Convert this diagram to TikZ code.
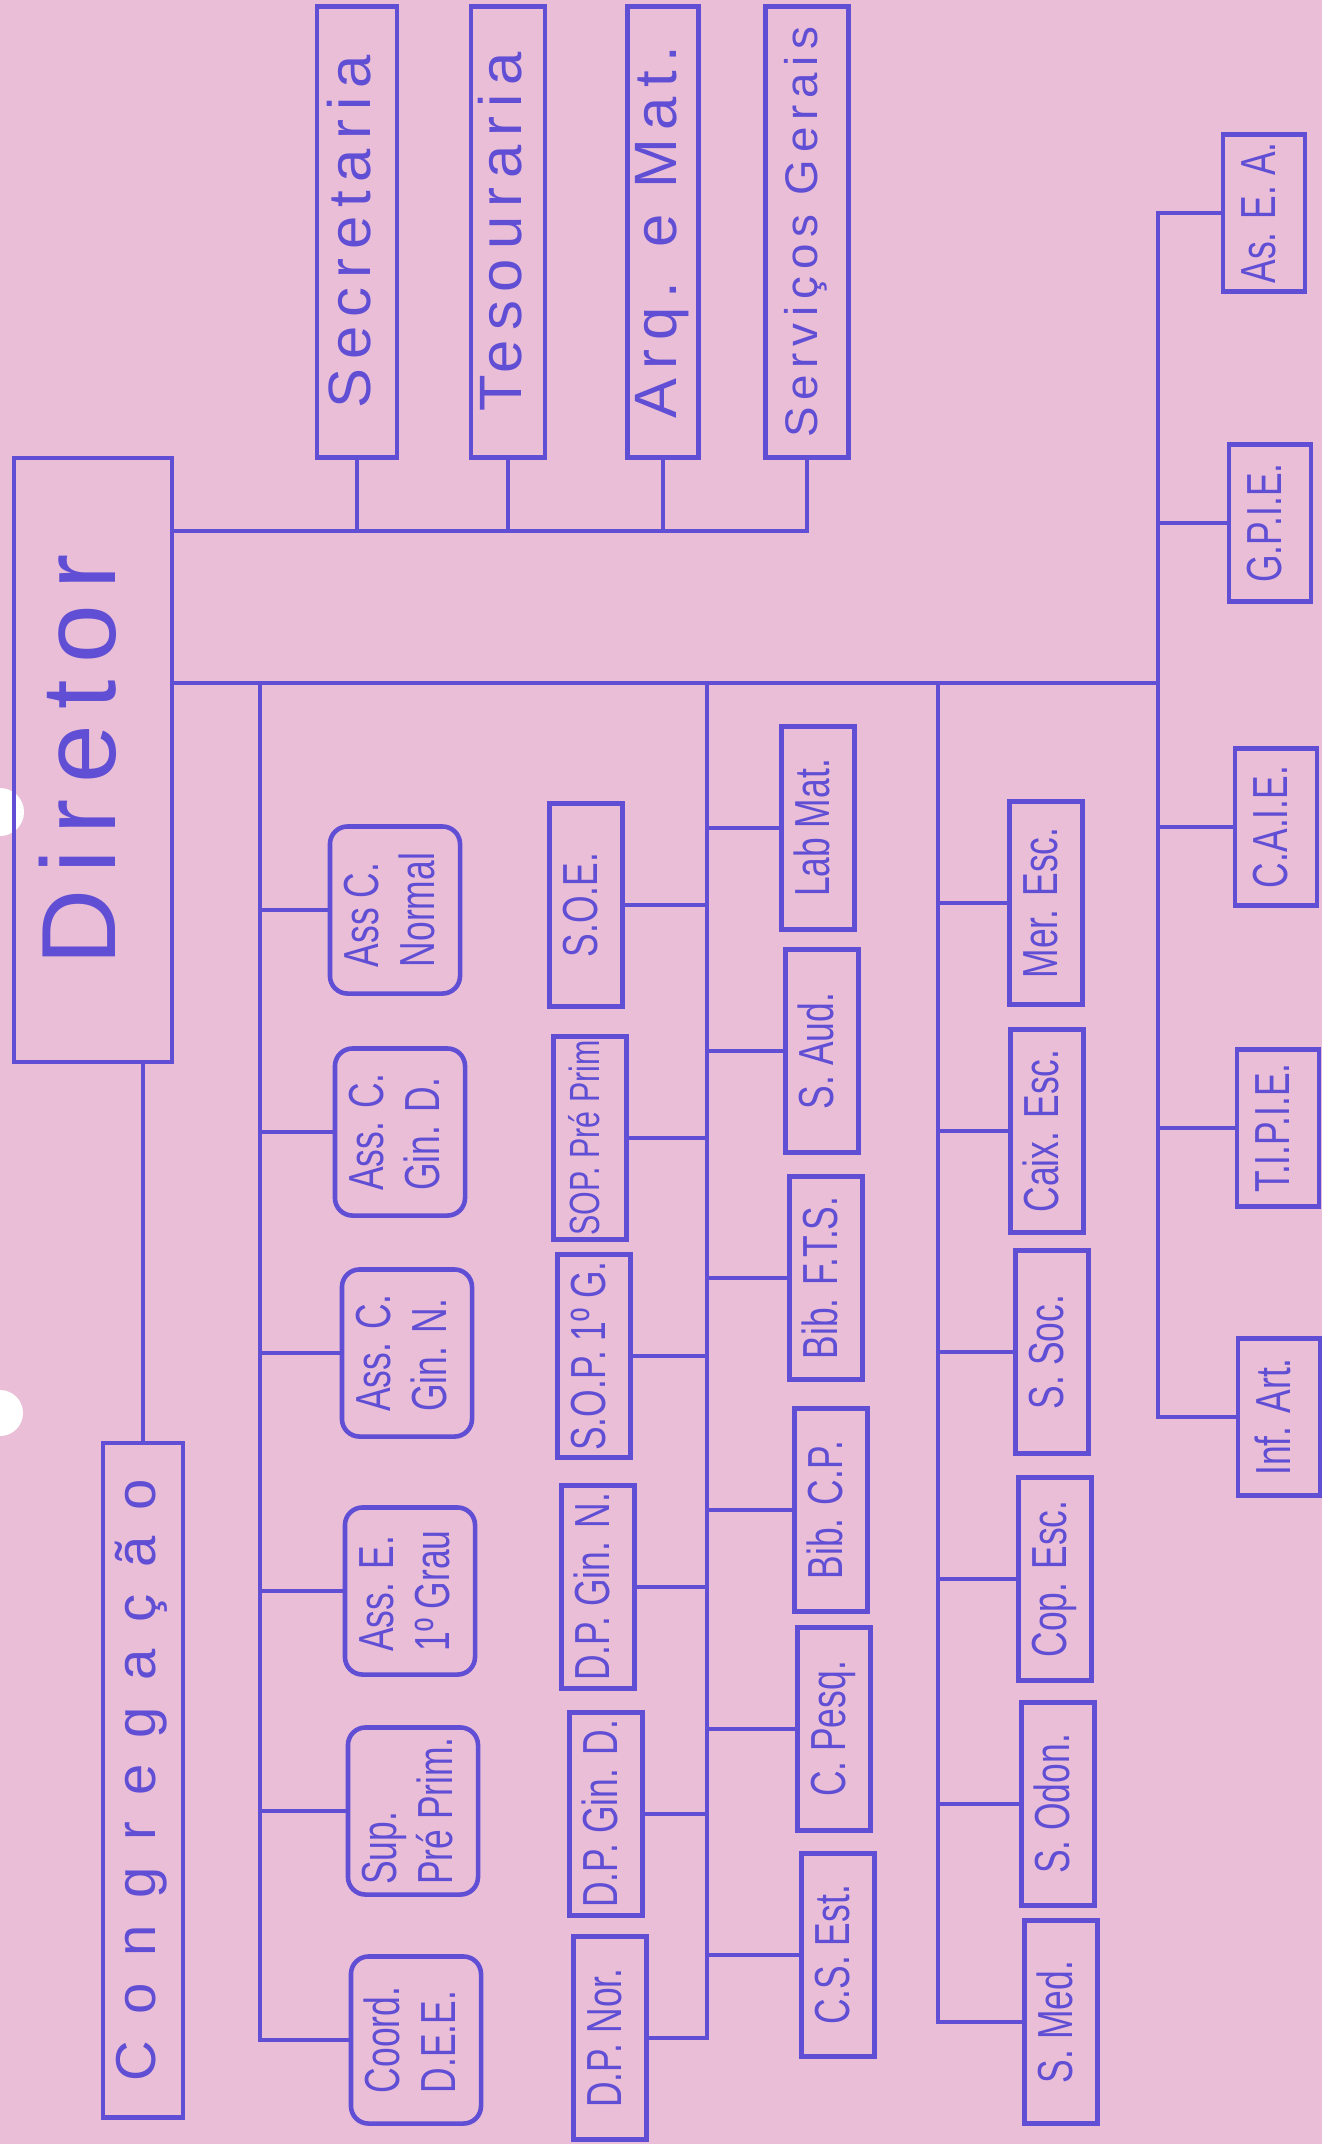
\documentclass[tikz,border=0pt]{standalone}
\usepackage{fontspec}
\setmainfont{Liberation Sans}
\newfontfamily\guide[LetterSpace=15]{Liberation Sans}
\newfontfamily\guidewide[LetterSpace=47]{Liberation Sans}
\newfontfamily\hand[FakeStretch=0.72]{Liberation Sans}
\definecolor{paper}{RGB}{234,190,215}
\definecolor{inkblue}{RGB}{96,78,212}
\newcommand{\vlab}[1]{\rotatebox{90}{\begin{tabular}{@{}l@{}}#1\end{tabular}}}

\begin{document}
\begin{tikzpicture}[
  x=0.01cm, y=-0.01cm,
  wire/.style={draw=inkblue, line width=1.3pt},
  box/.style={draw=inkblue, line width=1.3pt, text=inkblue, inner sep=0pt},
  service/.style={box, minimum height=4.51cm, font=\guide\fontsize{17}{19}\selectfont},
  assist/.style={box, rounded corners=5pt, minimum width=1.30cm, minimum height=1.67cm, font=\hand\fontsize{14}{16}\selectfont},
  unit/.style={box, minimum width=0.73cm, minimum height=2.03cm, font=\hand\fontsize{14}{16}\selectfont},
  aux/.style={box, minimum width=0.82cm, minimum height=1.57cm, font=\hand\fontsize{14}{16}\selectfont}
]
\useasboundingbox (0,0) rectangle (1322,2144);
\fill[paper] (0,0) rectangle (1322,2144);
\fill[white] (0,812) circle (0.24cm);
\fill[white] (0,1413) circle (0.23cm);

% Direction
\node[box, minimum width=1.58cm, minimum height=6.04cm, font=\guide\fontsize{30}{32}\selectfont] (dir) at (93,760) {\vlab{Diretor}};
\node[box, minimum width=0.80cm, minimum height=6.74cm, font=\guidewide\fontsize{16}{18}\selectfont] (cong) at (143,1780) {\vlab{Congregação}};

% Services on top
\node[service, minimum width=0.80cm] (sec) at (357,232) {\vlab{Secretaria}};
\node[service, minimum width=0.74cm] (tes) at (508,232) {\vlab{Tesouraria}};
\node[service, minimum width=0.71cm] (arq) at (663,232) {\vlab{Arq. e Mat.}};
\node[service, minimum width=0.83cm, font=\guide\fontsize{13}{15}\selectfont] (serv) at (807,232) {\vlab{Serviços Gerais}};

% Assistants
\node[assist] (ascn) at (395,910) {\vlab{Ass C.\\Normal}};
\node[assist] (ascgd) at (400,1132) {\vlab{Ass. C.\\Gin. D.}};
\node[assist] (ascgn) at (407,1353) {\vlab{Ass. C.\\Gin. N.}};
\node[assist] (asegr) at (410,1591) {\vlab{Ass. E.\\1º Grau}};
\node[assist] (suppp) at (413,1811) {\vlab{Sup.\\Pré Prim.}};
\node[assist] (coord) at (416,2040) {\vlab{Coord.\\D.E.E.}};

% Pedagogical units
\node[unit] (soe) at (586,905) {\vlab{S.O.E.}};
\node[unit, font=\hand\fontsize{12}{14}\selectfont] (soppp) at (590,1138) {\vlab{SOP. Pré Prim}};
\node[unit] (sop1) at (594,1356) {\vlab{S.O.P. 1º G.}};
\node[unit] (dpgn) at (598,1587) {\vlab{D.P. Gin. N.}};
\node[unit] (dpgd) at (606,1814) {\vlab{D.P. Gin. D.}};
\node[unit] (dpnor) at (610,2038) {\vlab{D.P. Nor.}};

\node[unit] (labmat) at (818,828) {\vlab{Lab Mat.}};
\node[unit] (saud) at (822,1051) {\vlab{S. Aud.}};
\node[unit] (bibfts) at (826,1278) {\vlab{Bib. F.T.S.}};
\node[unit] (bibcp) at (831,1510) {\vlab{Bib. C.P.}};
\node[unit] (cpesq) at (834,1729) {\vlab{C. Pesq.}};
\node[unit] (csest) at (838,1955) {\vlab{C.S. Est.}};

% School services
\node[unit] (meresc) at (1046,903) {\vlab{Mer. Esc.}};
\node[unit] (caixesc) at (1047,1131) {\vlab{Caix. Esc.}};
\node[unit] (ssoc) at (1052,1352) {\vlab{S. Soc.}};
\node[unit] (copesc) at (1055,1579) {\vlab{Cop. Esc.}};
\node[unit] (sodon) at (1058,1804) {\vlab{S. Odon.}};
\node[unit] (smed) at (1061,2022) {\vlab{S. Med.}};

% Auxiliary institutions
\node[aux] (asea) at (1264,213) {\vlab{As. E. A.}};
\node[aux] (gpie) at (1270,523) {\vlab{G.P.I.E.}};
\node[aux] (caie) at (1276,827) {\vlab{C.A.I.E.}};
\node[aux] (tipie) at (1278,1128) {\vlab{T.I.P.I.E.}};
\node[aux] (infart) at (1279,1417) {\vlab{Inf. Art.}};

% Buses and trunks
\coordinate (busA) at (0,531);
\coordinate (busB) at (0,683);
\coordinate (t1) at (260,0);
\coordinate (t2) at (707,0);
\coordinate (t3) at (938,0);
\coordinate (t4) at (1158,0);

% Lines
\draw[wire] (dir.east |- busA) -| (serv.south);
\foreach \n in {sec,tes,arq} \draw[wire] (\n.south) -- (\n.south |- busA);
\draw[wire] (dir.south -| cong.north) -- (cong.north);
\draw[wire] (dir.east |- busB) -- (t4 |- busB);
\draw[wire] (t1 |- busB) |- (coord.west);
\foreach \n in {ascn,ascgd,ascgn,asegr,suppp} \draw[wire] (\n.west) -- (\n.west -| t1);
\draw[wire] (t2 |- busB) |- (dpnor.east);
\foreach \n in {soe,soppp,sop1,dpgn,dpgd} \draw[wire] (\n.east) -- (\n.east -| t2);
\foreach \n in {labmat,saud,bibfts,bibcp,cpesq,csest} \draw[wire] (\n.west) -- (\n.west -| t2);
\draw[wire] (t3 |- busB) |- (smed.west);
\foreach \n in {meresc,caixesc,ssoc,copesc,sodon} \draw[wire] (\n.west) -- (\n.west -| t3);
\draw[wire] (asea.west) -| (t4 |- infart.west) -- (infart.west);
\foreach \n in {gpie,caie,tipie} \draw[wire] (\n.west) -- (\n.west -| t4);

\end{tikzpicture}
\end{document}
